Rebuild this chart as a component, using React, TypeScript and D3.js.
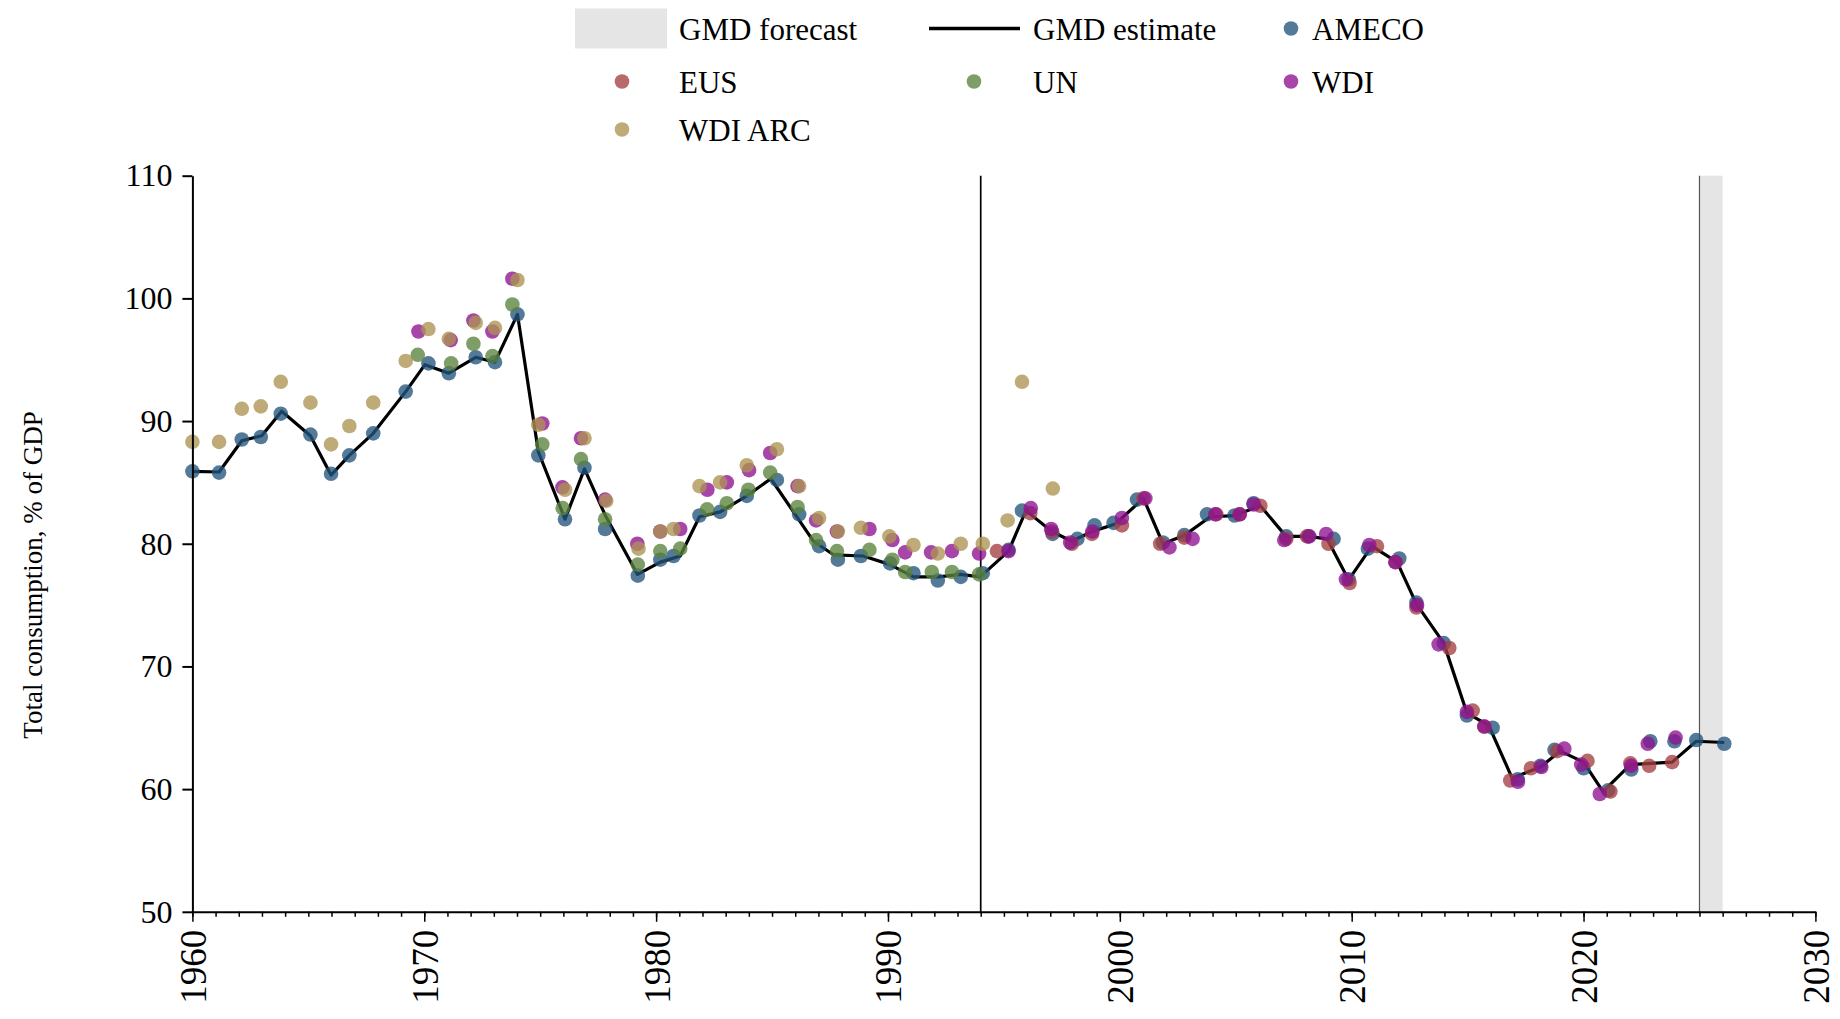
import React, { useRef, useEffect } from 'react';
import * as d3 from 'd3';

// values (x = year, with the small horizontal offsets of the original)
const gmdEstimate: [number, number][] = [
  [1960.0, 85.9], [1961.15, 85.85], [1962.13, 88.4], [1962.99, 88.8], [1963.85, 90.8],
  [1965.09, 88.8], [1965.98, 85.6], [1966.77, 87.2], [1967.8, 89.0], [1969.2, 92.4],
  [1970.03, 94.6], [1971.06, 93.9], [1972.22, 95.2], [1973.05, 94.8], [1974.02, 98.7],
  [1974.92, 87.5], [1976.07, 82.0], [1976.91, 86.1], [1977.8, 82.35], [1979.2, 77.5],
  [1980.18, 78.5], [1981.04, 79.0], [1981.87, 82.2], [1982.76, 82.6], [1983.91, 83.9],
  [1984.95, 85.3], [1986.79, 80.2], [1987.65, 79.1], [1988.94, 79.0], [1990.09, 78.3],
  [1991.1, 77.3], [1992.18, 77.3], [1993.12, 77.5], [1993.98, 77.3], [1995.2, 79.4],
  [1995.95, 82.7], [1997.07, 81.0], [1997.93, 80.2], [1998.8, 81.0], [1999.8, 81.6],
  [2001.02, 83.7], [2001.86, 80.0], [2002.8, 80.7], [2003.9, 82.2], [2004.95, 82.3],
  [2006.06, 83.1], [2007.17, 80.6], [2008.14, 80.6], [2008.94, 80.4], [2009.87, 77.05],
  [2010.87, 79.8], [2011.96, 78.5], [2012.79, 75.1], [2013.97, 71.9], [2014.97, 66.2],
  [2015.91, 65.2], [2016.92, 60.9], [2018.14, 61.8], [2019.0, 63.1], [2020.0, 62.2],
  [2020.84, 59.8], [2022.02, 62.0], [2023.82, 62.2], [2024.86, 63.9], [2026.07, 63.8],
];

const ameco: [number, number][] = [
  [1960.0, 85.9], [1961.15, 85.8], [1962.13, 88.5], [1962.95, 88.7], [1963.81, 90.6],
  [1965.09, 88.9], [1965.98, 85.7], [1966.77, 87.2], [1967.8, 89.0], [1969.2, 92.4],
  [1970.18, 94.7], [1971.06, 93.9], [1972.22, 95.2], [1973.05, 94.8], [1974.02, 98.7],
  [1974.92, 87.2], [1976.07, 82.0], [1976.91, 86.2], [1977.8, 81.2], [1979.21, 77.4],
  [1980.18, 78.7], [1980.75, 79.0], [1981.87, 82.3], [1982.76, 82.6], [1983.91, 83.9],
  [1985.21, 85.2], [1986.17, 82.4], [1987.03, 79.8], [1987.84, 78.7], [1988.83, 79.0],
  [1990.09, 78.4], [1991.1, 77.6], [1992.15, 77.0], [1993.14, 77.3], [1994.09, 77.6],
  [1995.2, 79.5], [1995.78, 82.7], [1997.1, 80.8], [1998.17, 80.4], [1998.91, 81.5],
  [1999.73, 81.7], [2000.74, 83.6], [2001.86, 80.1], [2002.78, 80.7], [2003.76, 82.4],
  [2004.95, 82.3], [2005.77, 83.3], [2007.18, 80.6], [2008.14, 80.6], [2009.22, 80.4],
  [2009.87, 77.1], [2010.7, 79.6], [2012.05, 78.8], [2012.79, 75.2], [2013.97, 71.9],
  [2014.97, 66.0], [2016.08, 65.0], [2017.16, 60.8], [2018.14, 61.9], [2018.75, 63.2],
  [2020.0, 61.7], [2021.06, 59.9], [2022.06, 61.6], [2022.88, 63.9], [2023.92, 63.9],
  [2024.86, 64.0], [2026.07, 63.7],
];

const eus: [number, number][] = [
  [1994.7, 79.4], [1996.14, 82.5], [1997.07, 81.0], [1997.93, 80.0], [1998.8, 80.8],
  [2000.09, 81.5], [2001.02, 83.7], [2001.74, 80.0], [2002.78, 80.5], [2004.16, 82.4],
  [2005.17, 82.4], [2006.06, 83.1], [2007.18, 80.4], [2008.07, 80.6], [2009.0, 80.0],
  [2009.91, 76.8], [2011.09, 79.8], [2011.9, 78.5], [2012.79, 74.8], [2014.21, 71.5],
  [2015.22, 66.4], [2015.72, 65.1], [2016.84, 60.7], [2017.73, 61.7], [2018.86, 63.1],
  [2020.17, 62.3], [2021.16, 59.8], [2022.02, 62.1], [2022.83, 61.9], [2023.82, 62.2],
];

const un: [number, number][] = [
  [1969.72, 95.4], [1971.16, 94.7], [1972.12, 96.3], [1972.94, 95.3], [1973.8, 99.5],
  [1975.09, 88.1], [1975.97, 82.9], [1976.76, 86.9], [1977.8, 82.0], [1979.21, 78.3],
  [1980.18, 79.4], [1981.04, 79.6], [1982.2, 82.8], [1983.05, 83.3], [1983.98, 84.4],
  [1984.92, 85.8], [1986.1, 83.0], [1986.9, 80.3], [1987.8, 79.4], [1989.2, 79.5],
  [1990.19, 78.7], [1990.74, 77.7], [1991.89, 77.7], [1992.76, 77.7], [1993.93, 77.5],
];

const wdi: [number, number][] = [
  [1969.75, 97.3], [1971.14, 96.6], [1972.12, 98.2], [1972.94, 97.3], [1973.8, 101.6],
  [1975.09, 89.8], [1975.96, 84.6], [1976.76, 88.6], [1977.8, 83.6], [1979.19, 80.0],
  [1980.18, 81.0], [1981.04, 81.2], [1982.21, 84.4], [1983.05, 85.0], [1984.01, 86.0],
  [1984.92, 87.4], [1986.1, 84.7], [1986.9, 81.9], [1987.8, 81.0], [1989.2, 81.2],
  [1990.19, 80.3], [1990.74, 79.3], [1991.86, 79.3], [1992.76, 79.4], [1993.93, 79.2],
  [1995.2, 79.4], [1996.16, 82.9], [1997.04, 81.2], [1997.86, 80.1], [1998.82, 81.0],
  [2000.09, 82.1], [2001.1, 83.7], [2002.14, 79.7], [2003.14, 80.4], [2004.12, 82.4],
  [2005.17, 82.4], [2005.77, 83.2], [2007.09, 80.3], [2008.17, 80.6], [2008.9, 80.8],
  [2009.75, 77.1], [2010.76, 79.9], [2011.88, 78.5], [2012.82, 75.0], [2013.75, 71.8],
  [2014.97, 66.3], [2015.72, 65.1], [2017.17, 60.6], [2018.18, 61.8], [2019.17, 63.3],
  [2019.9, 62.0], [2020.7, 59.6], [2022.05, 61.9], [2022.77, 63.7], [2023.97, 64.2],
];

const wdiArc: [number, number][] = [
  [1960.0, 88.3], [1961.15, 88.3], [1962.13, 91.0], [1962.95, 91.2], [1963.81, 93.2],
  [1965.09, 91.5], [1965.98, 88.1], [1966.77, 89.6], [1967.8, 91.5], [1969.2, 94.9],
  [1970.18, 97.5], [1971.06, 96.7], [1972.22, 98.0], [1973.05, 97.6], [1974.02, 101.5],
  [1974.92, 89.7], [1976.07, 84.4], [1976.91, 88.6], [1977.85, 83.5], [1979.24, 79.6],
  [1980.18, 81.0], [1980.75, 81.2], [1981.87, 84.7], [1982.76, 85.0], [1983.91, 86.4],
  [1985.21, 87.7], [1986.17, 84.7], [1987.03, 82.1], [1987.84, 81.0], [1988.83, 81.3],
  [1990.06, 80.6], [1991.1, 79.9], [1992.15, 79.2], [1993.14, 80.0], [1994.09, 80.0],
  [1995.16, 81.9], [1995.78, 93.2], [1997.11, 84.5],
];

const yTicks = [50, 60, 70, 80, 90, 100, 110];
const xMajorTicks = [1960, 1970, 1980, 1990, 2000, 2010, 2020, 2030];
const forecastYears = [2025, 2026];
const splitYear = 1994;

const FONT = '"Liberation Serif", "Times New Roman", serif';

const sources = [
  { name: 'AMECO', data: ameco, color: '#24547d' },
  { name: 'EUS', data: eus, color: '#a43f42' },
  { name: 'UN', data: un, color: '#5a823c' },
  { name: 'WDI', data: wdi, color: '#8e1290' },
  { name: 'WDI ARC', data: wdiArc, color: '#ac9352' },
];

export default function App() {
  const xAxisRef = useRef<SVGGElement>(null);
  const xMinorRef = useRef<SVGGElement>(null);
  const yAxisRef = useRef<SVGGElement>(null);

  const x = d3.scaleLinear().domain([1960, 2030]).range([192.4, 1815.4]);
  const y = d3.scaleLinear().domain([50, 110]).range([911.8, 175.7]);

  const line = d3.line<[number, number]>().x(d => x(d[0])).y(d => y(d[1]));

  useEffect(() => {
    const gy = d3.select(yAxisRef.current!);
    gy.call(d3.axisLeft(y).tickValues(yTicks).tickSize(10).tickSizeOuter(0).tickPadding(10));
    gy.attr('font-family', FONT).attr('font-size', 32);
    gy.select('.domain').attr('stroke-width', 2);
    gy.selectAll('.tick line').attr('stroke-width', 2);
    gy.selectAll('.tick text').attr('fill', '#000').style('font-family', FONT);

    const gm = d3.select(xMinorRef.current!);
    gm.call(d3.axisBottom(x).tickValues(d3.range(1960, 2031)).tickSize(5).tickSizeOuter(0).tickFormat(() => ''));
    gm.select('.domain').attr('stroke-width', 2);
    gm.selectAll('.tick line').attr('stroke-width', 1.5);

    const gx = d3.select(xAxisRef.current!);
    gx.call(d3.axisBottom(x).tickValues(xMajorTicks).tickSize(10).tickSizeOuter(0).tickFormat(d3.format('d')));
    gx.attr('font-family', FONT).attr('font-size', 37);
    gx.select('.domain').remove();
    gx.selectAll('.tick line').attr('stroke-width', 1.5);
    gx.selectAll<SVGTextElement, number>('.tick text')
      .attr('transform', 'rotate(-90)')
      .attr('x', -18)
      .attr('y', 0)
      .attr('dy', '0.35em')
      .attr('text-anchor', 'end')
      .attr('fill', '#000')
      .style('font-family', FONT);
  }, []);

  const legendRows = [
    { label: 'GMD forecast', kind: 'band', lx: 575, tx: 679, cy: 28.5 },
    { label: 'GMD estimate', kind: 'line', lx: 929, tx: 1033, cy: 28.5 },
    { label: 'AMECO', kind: 'dot', lx: 1291, tx: 1312, cy: 28.5, color: sources[0].color },
    { label: 'EUS', kind: 'dot', lx: 622, tx: 679, cy: 81.5, color: sources[1].color },
    { label: 'UN', kind: 'dot', lx: 974, tx: 1033, cy: 81.5, color: sources[2].color },
    { label: 'WDI', kind: 'dot', lx: 1291, tx: 1312, cy: 81.5, color: sources[3].color },
    { label: 'WDI ARC', kind: 'dot', lx: 622, tx: 679, cy: 129.5, color: sources[4].color },
  ];

  return (
    <div style={{ position: 'absolute', left: 0, top: 0 }}>
      <svg width={1840} height={1019} style={{ display: 'block', background: '#fff' }} fontFamily={FONT}>
        {/* forecast band */}
        <rect
          x={x(forecastYears[0])}
          y={y(110)}
          width={x(forecastYears[1]) - x(forecastYears[0])}
          height={y(50) - y(110)}
          fill="#e5e5e5"
        />
        <line x1={x(forecastYears[0])} x2={x(forecastYears[0])} y1={y(110)} y2={y(50)} stroke="#555" strokeWidth={1.2} />
        <line x1={x(splitYear)} x2={x(splitYear)} y1={y(110)} y2={y(50)} stroke="#000" strokeWidth={1.7} />

        <path d={line(gmdEstimate) || ''} fill="none" stroke="#000" strokeWidth={3.2} strokeLinejoin="round" />

        {sources.map(s => (
          <g key={s.name}>
            {s.data.map((d, i) => (
              <circle key={i} cx={x(d[0])} cy={y(d[1])} r={7.3} fill={s.color} fillOpacity={0.78} />
            ))}
          </g>
        ))}

        <g ref={xMinorRef} transform={`translate(0,${y(50)})`} />
        <g ref={xAxisRef} transform={`translate(0,${y(50)})`} />
        <g ref={yAxisRef} transform={`translate(${x(1960)},0)`} />

        <text
          transform="translate(42,575) rotate(-90)"
          textAnchor="middle"
          fontSize={27}
        >
          Total consumption, % of GDP
        </text>

        {/* legend */}
        {legendRows.map(r => (
          <g key={r.label}>
            {r.kind === 'band' && <rect x={r.lx} y={r.cy - 20} width={92} height={40} fill="#e5e5e5" />}
            {r.kind === 'line' && <line x1={r.lx} x2={r.lx + 91} y1={r.cy} y2={r.cy} stroke="#000" strokeWidth={3.5} />}
            {r.kind === 'dot' && <circle cx={r.lx} cy={r.cy} r={7.3} fill={r.color} fillOpacity={0.78} />}
            <text x={r.tx} y={r.cy + 11} fontSize={31}>{r.label}</text>
          </g>
        ))}
      </svg>
    </div>
  );
}
